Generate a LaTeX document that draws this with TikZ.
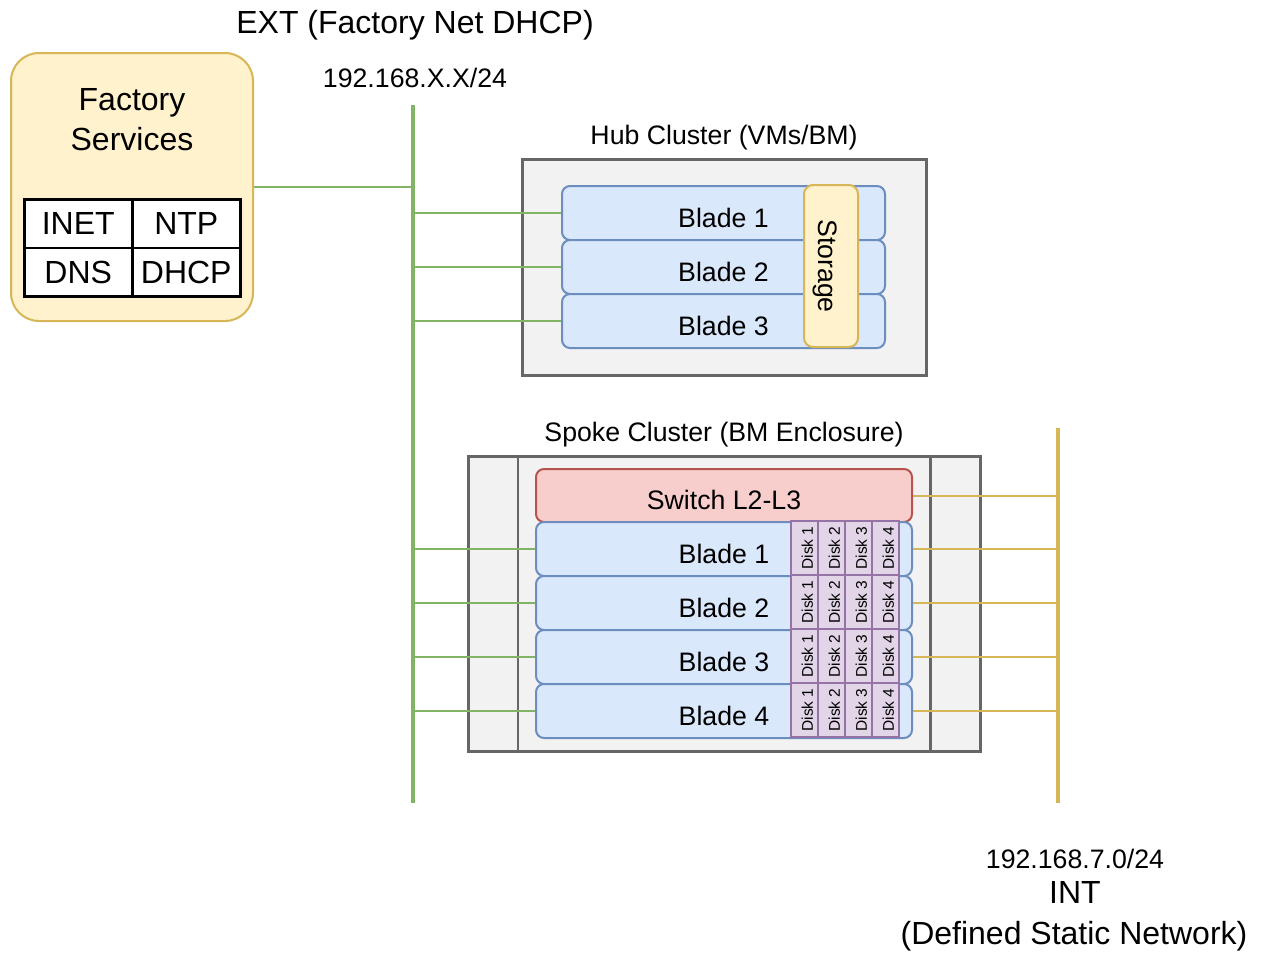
\documentclass[tikz,border=0pt]{standalone}
\usepackage{fontspec}
\setmainfont{Liberation Sans}
\usetikzlibrary{calc}
\definecolor{grn}{HTML}{82B366}
\definecolor{ylwS}{HTML}{D6B656}
\definecolor{ylwF}{HTML}{FFF2CC}
\definecolor{grayF}{HTML}{F2F2F2}
\definecolor{grayS}{HTML}{666666}
\definecolor{bladeF}{HTML}{DAE8FC}
\definecolor{bladeS}{HTML}{6C8EBF}
\definecolor{swF}{HTML}{F8CECC}
\definecolor{swS}{HTML}{B85450}
\definecolor{diskF}{HTML}{E1D5E7}
\definecolor{diskS}{HTML}{9673A6}
\tikzset{
  big/.style={font=\fontsize{32}{40}\selectfont},
  med/.style={font=\fontsize{26.7}{30}\selectfont},
  small/.style={font=\fontsize{15.5}{17}\selectfont},
  lowtext/.style={text height=28pt, text depth=0pt},
  lowsmall/.style={text height=16.5pt, text depth=0pt},
  nw/.style={anchor=north west, inner sep=0pt},
  bladebox/.style={nw, draw=bladeS, fill=bladeF, line width=2pt, rounded corners=8pt, minimum width=323pt, minimum height=54pt, med, lowtext},
  sbladebox/.style={bladebox, minimum width=376pt},
  diskbox/.style={draw=diskS, fill=diskF, line width=2pt, rotate=90, minimum width=54pt, minimum height=27pt, inner sep=0pt, small, lowsmall},
  storebox/.style={draw=ylwS, fill=ylwF, line width=2pt, rounded corners=9pt, rotate=-90, minimum width=162pt, minimum height=54pt, inner sep=0pt, med, text height=26pt, text depth=0pt},
  switchbox/.style={nw, draw=swS, fill=swF, line width=2pt, rounded corners=8pt, minimum width=376pt, minimum height=53pt, med, lowtext},
  enclbox/.style={nw, draw=grayS, fill=grayF, line width=2.5pt},
  enclline/.style={draw=grayS, line width=2.5pt},
  cell/.style={nw, draw=black, fill=white, line width=2.5pt, minimum width=108pt, minimum height=48.5pt, big},
  fsbox/.style={nw, draw=ylwS, fill=ylwF, line width=2pt, rounded corners=28pt, minimum width=242pt, minimum height=268pt},
  gbus/.style={draw=grn, line width=4pt},
  ybus/.style={draw=ylwS, line width=4pt},
  glink/.style={draw=grn, line width=2pt},
  ylink/.style={draw=ylwS, line width=2pt},
}
\begin{document}
\begin{tikzpicture}[x=1pt,y=-1pt]
\useasboundingbox (0,0) rectangle (1262,953);
% labels
\node[big] (extlbl) at (415,25) {EXT (Factory Net DHCP)};
\node[med] (extnet) at (415,78) {192.168.X.X/24};
\node[med] (hublbl) at (724,138) {Hub Cluster (VMs/BM)};
\node[med] (spklbl) at (724,435) {Spoke Cluster (BM Enclosure)};
\node[med] (intnet) at (1075,859) {192.168.7.0/24};
\node[big] (intlbl) at (1075,892) {INT};
\node[big] (intdesc) at (1074,936) {(Defined Static Network)};
% buses
\coordinate (extTop) at (413,105);
\coordinate (extBot) at (413,803);
\coordinate (intTop) at (1058,428);
\coordinate (intBot) at (1058,803);
% factory services
\node[fsbox] (fs) at (10,52) {};
\node[big, align=center] (fstext) at (132,119.5) {Factory\\Services};
\node[cell] (inet) at (23,198) {INET};
\node[cell] (ntp) at (131,198) {NTP};
\node[cell] (dns) at (23,246.5) {DNS};
\node[cell] (dhcp) at (131,246.5) {DHCP};
% hub cluster
\node[enclbox, minimum width=404pt, minimum height=216pt] (hub) at (521,158) {};
\node[bladebox] (hb1) at (561,185) {Blade 1};
\node[bladebox] (hb2) at (561,239) {Blade 2};
\node[bladebox] (hb3) at (561,293) {Blade 3};
\node[storebox] (store) at (831,266) {Storage};
% spoke cluster
\node[enclbox, minimum width=512pt, minimum height=295pt] (spk) at (467,455) {};
\draw[enclline] ($(spk.north west)+(51,0)$) -- ($(spk.south west)+(51,0)$);
\draw[enclline] ($(spk.north east)+(-51,0)$) -- ($(spk.south east)+(-51,0)$);
\node[switchbox] (sw) at (535,468) {Switch L2-L3};
\foreach \i/\y in {1/521,2/575,3/629,4/683}{
  \node[sbladebox] (sb\i) at (535,\y) {Blade \i};
  \foreach \d/\x in {1/804.5,2/831.5,3/858.5,4/885.5}{
    \node[diskbox] (d\i\d) at (\x,\y+27) {Disk \d};
  }
}
% connectors
\draw[gbus] (extTop) -- (extBot);
\draw[ybus] (intTop) -- (intBot);
\draw[glink] (fs.east) -- (fs.east -| extTop);
\foreach \n in {hb1,hb2,hb3,sb1,sb2,sb3,sb4}{
  \draw[glink] (\n.west) -- (\n.west -| extTop);
}
\foreach \n in {sw,sb1,sb2,sb3,sb4}{
  \draw[ylink] (\n.east) -- (\n.east -| intTop);
}
\end{tikzpicture}
\end{document}
